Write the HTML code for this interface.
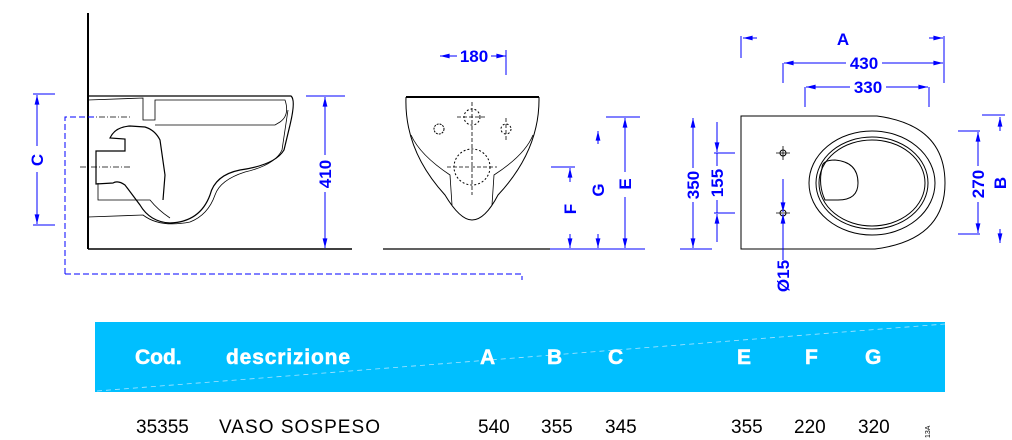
<!DOCTYPE html>
<html><head><meta charset="utf-8"><style>
body{margin:0;background:#fff;width:1012px;height:440px;overflow:hidden;font-family:"Liberation Sans",Arial,sans-serif}
svg{position:absolute;left:0;top:0}
.t{font-family:"Liberation Sans",Arial,sans-serif;font-weight:bold;fill:#0000ff;font-size:17px}
</style></head><body>
<svg width="1012" height="440" viewBox="0 0 1012 440">
<defs>
<marker id="a" viewBox="0 0 12 10" refX="12" refY="5" markerWidth="12" markerHeight="8" orient="auto-start-reverse" markerUnits="userSpaceOnUse"><path d="M0,2 L12,5 L0,8 Z" fill="#00f"/></marker>
</defs>
<!-- SIDE VIEW -->
<g fill="none" stroke="#000">
<line x1="88" y1="13" x2="88" y2="249" stroke-width="2"/>
<line x1="88" y1="249" x2="352" y2="249" stroke-width="1.5"/>
<path d="M88,96 L291,96 Q296,100 290,125 L284,150 Q275,165 240,170 Q215,175 210,195 Q200,222 170,223 Q150,222 140,205 L125,185 Q118,180 113,183 L96,184 L96,151 L125,151 L125,139 L110,138 Q115,127 130,126 L145,127 Q155,130 160,140 L165,175 L163,200" stroke-width="1.2"/>
<path d="M88,100 L143,98 L143,120 L155,120 L155,100 L285,100 Q290,115 280,122 L275,125 L155,125" stroke-width="0.8"/>
<path d="M88,217 L143,215 Q160,228 190,222 Q208,215 215,195 Q220,180 245,172 Q275,165 282,150 L288,110" stroke-width="0.8"/>
<path d="M98,183 L98,200 L150,200 Q158,210 170,218" stroke-width="0.8"/>
</g>
<g stroke="#000" stroke-width="0.8" stroke-dasharray="6,2,1,2">
<line x1="88" y1="117" x2="130" y2="117"/><line x1="80" y1="167" x2="130" y2="167"/>
</g>
<g stroke="#00f" stroke-width="1" fill="none">
<path d="M65,274 L65,117 L95,117" stroke-dasharray="6,3"/>
<path d="M65,274 L522,274 L522,280" stroke-dasharray="6,3"/>
<line x1="33" y1="94" x2="55" y2="94"/><line x1="33" y1="225" x2="55" y2="225"/>
<line x1="37" y1="95" x2="37" y2="146" marker-start="url(#a)"/><line x1="37" y1="172" x2="37" y2="224" marker-end="url(#a)"/>
<line x1="306" y1="96" x2="345" y2="96"/>
<line x1="325" y1="97" x2="325" y2="155" marker-start="url(#a)"/><line x1="325" y1="192" x2="325" y2="248" marker-end="url(#a)"/>
</g>
<text class="t" transform="translate(43,160) rotate(-90)" text-anchor="middle">C</text>
<text class="t" transform="translate(331,174) rotate(-90)" text-anchor="middle">410</text>
<!-- FRONT VIEW -->
<g fill="none" stroke="#000" stroke-width="1">
<line x1="383" y1="249" x2="550" y2="249" stroke-width="1.2"/>
<path d="M406,97 L539,97" stroke-width="2"/>
<path d="M406,97 Q404,150 445,195 Q460,220 472,220 Q485,220 498,195 Q540,150 539,97" />
<path d="M411,135 Q420,155 450,175 L452,205 M533,135 Q525,155 494,175 L492,205" stroke-width="0.8"/>
<circle cx="472" cy="167" r="18" stroke-dasharray="2,2"/>
<circle cx="472" cy="117" r="8" stroke-dasharray="2,2"/>
<circle cx="439" cy="129" r="5" stroke-dasharray="2,1"/><circle cx="506" cy="129" r="5" stroke-dasharray="2,2"/>
</g>
<g stroke="#000" stroke-width="0.8" stroke-dasharray="4,2">
<line x1="472" y1="102" x2="472" y2="195"/><line x1="447" y1="167" x2="497" y2="167"/><line x1="457" y1="117" x2="487" y2="117"/><line x1="506" y1="118" x2="506" y2="140"/>
</g>
<g stroke="#00f" stroke-width="1" fill="none">
<line x1="550" y1="249" x2="645" y2="249"/>
<line x1="440" y1="56" x2="457" y2="56" marker-start="url(#a)"/><line x1="491" y1="56" x2="506" y2="56" marker-end="url(#a)"/>
<line x1="506" y1="50" x2="506" y2="75"/>
<line x1="551" y1="167" x2="575" y2="167"/>
<line x1="570" y1="168" x2="570" y2="182" marker-start="url(#a)"/><line x1="570" y1="234" x2="570" y2="248" marker-end="url(#a)"/>
<line x1="598" y1="131" x2="598" y2="144" marker-start="url(#a)"/><line x1="598" y1="234" x2="598" y2="248" marker-end="url(#a)"/>
<line x1="606" y1="117" x2="640" y2="117"/>
<line x1="625" y1="118" x2="625" y2="172" marker-start="url(#a)"/><line x1="625" y1="197" x2="625" y2="248" marker-end="url(#a)"/>
</g>
<text class="t" x="474" y="62" text-anchor="middle">180</text>
<text class="t" transform="translate(576,209) rotate(-90)" text-anchor="middle">F</text>
<text class="t" transform="translate(604,190) rotate(-90)" text-anchor="middle">G</text>
<text class="t" transform="translate(631,184) rotate(-90)" text-anchor="middle">E</text>
<!-- TOP VIEW -->
<g fill="none" stroke="#000" stroke-width="1">
<path d="M741,116 L877,116 Q945,125 945,183 Q945,240 875,249 L741,249 Z"/>
<ellipse cx="872" cy="183" rx="63" ry="52"/>
<ellipse cx="872" cy="183" rx="56" ry="46"/>
<ellipse cx="872" cy="183" rx="53" ry="43"/>
<path d="M822,168 Q822,160 835,160 Q858,162 858,183 Q858,200 838,200 L825,200 Q818,185 822,168Z"/>
<circle cx="783" cy="153" r="3"/><circle cx="783" cy="213" r="3"/>
<path d="M776,153h14M783,146v14M776,213h14" stroke-width="0.8"/>
</g>
<g stroke="#00f" stroke-width="1" fill="none">
<line x1="741" y1="36" x2="741" y2="58"/><line x1="944" y1="36" x2="944" y2="83"/>
<line x1="743" y1="38" x2="757" y2="38" marker-start="url(#a)"/><line x1="929" y1="38" x2="943" y2="38" marker-end="url(#a)"/>
<line x1="783" y1="63" x2="783" y2="83"/>
<line x1="784" y1="63" x2="846" y2="63" marker-start="url(#a)"/><line x1="882" y1="63" x2="943" y2="63" marker-end="url(#a)"/>
<line x1="805" y1="87" x2="805" y2="107"/><line x1="929" y1="87" x2="929" y2="107"/>
<line x1="806" y1="87" x2="850" y2="87" marker-start="url(#a)"/><line x1="886" y1="87" x2="928" y2="87" marker-end="url(#a)"/>
<line x1="693" y1="118" x2="693" y2="168" marker-start="url(#a)"/><line x1="693" y1="202" x2="693" y2="248" marker-end="url(#a)"/>
<line x1="680" y1="249" x2="712" y2="249"/>
<line x1="714" y1="153" x2="735" y2="153"/><line x1="714" y1="213" x2="735" y2="213"/>
<line x1="717" y1="122" x2="717" y2="152" marker-end="url(#a)"/><line x1="717" y1="153" x2="717" y2="166"/>
<line x1="717" y1="242" x2="717" y2="214" marker-end="url(#a)"/><line x1="717" y1="213" x2="717" y2="200"/>
<line x1="783" y1="179" x2="783" y2="212" marker-end="url(#a)"/><line x1="783" y1="260" x2="783" y2="214" marker-end="url(#a)"/>
<line x1="958" y1="131" x2="980" y2="131"/><line x1="958" y1="234" x2="980" y2="234"/>
<line x1="978" y1="132" x2="978" y2="166" marker-start="url(#a)"/><line x1="978" y1="202" x2="978" y2="233" marker-end="url(#a)"/>
<line x1="982" y1="115" x2="1005" y2="115"/>
<line x1="1000" y1="117" x2="1000" y2="131" marker-start="url(#a)"/><line x1="1000" y1="229" x2="1000" y2="243" marker-end="url(#a)"/>
</g>
<text class="t" x="843" y="45" text-anchor="middle">A</text>
<text class="t" x="864" y="69" text-anchor="middle">430</text>
<text class="t" x="868" y="93" text-anchor="middle">330</text>
<text class="t" transform="translate(699,185) rotate(-90)" text-anchor="middle">350</text>
<text class="t" transform="translate(723,183) rotate(-90)" text-anchor="middle">155</text>
<text class="t" transform="translate(789,276) rotate(-90)" text-anchor="middle">Ø15</text>
<text class="t" transform="translate(984,184) rotate(-90)" text-anchor="middle">270</text>
<text class="t" transform="translate(1006,183) rotate(-90)" text-anchor="middle">B</text>
<!-- TABLE -->
<rect x="95" y="322" width="850" height="70" fill="#00bfff"/>
<line x1="97" y1="391" x2="945" y2="324" stroke="#a8e4ff" stroke-width="0.8" stroke-dasharray="5,4"/>
<g font-family="Liberation Sans,Arial,sans-serif" font-weight="bold" font-size="21" fill="#fff" stroke="#fff" stroke-width="0.5">
<text x="135" y="364">Cod.</text><text x="226" y="364" textLength="124">descrizione</text>
<text x="480" y="364">A</text><text x="547" y="364">B</text><text x="608" y="364">C</text>
<text x="737" y="364">E</text><text x="805" y="364">F</text><text x="865" y="364">G</text>
</g>
<g font-family="Liberation Sans,Arial,sans-serif" font-size="19" fill="#000">
<text x="136" y="433">35355</text><text x="219" y="433" textLength="161">VASO SOSPESO</text>
<text x="478" y="433">540</text><text x="541" y="433">355</text><text x="605" y="433">345</text>
<text x="731" y="433">355</text><text x="794" y="433">220</text><text x="858" y="433">320</text>
</g>
<text transform="translate(930,438) rotate(-90)" font-family="Liberation Sans,Arial,sans-serif" font-size="7" fill="#000">13A</text>
</svg>
</body></html>
